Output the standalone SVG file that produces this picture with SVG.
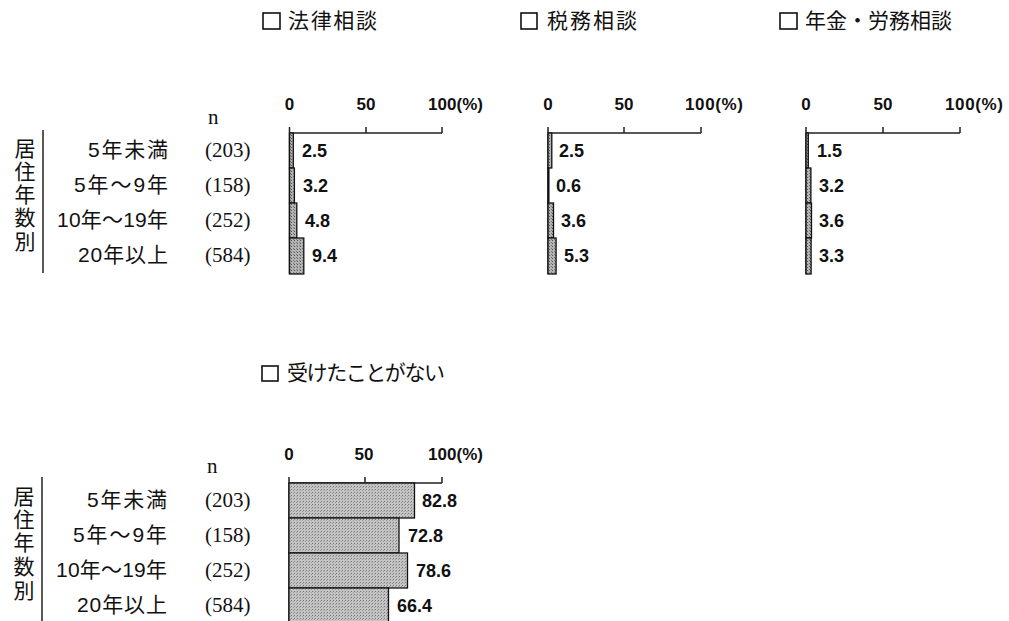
<svg xmlns="http://www.w3.org/2000/svg" width="1009" height="621" viewBox="0 0 1009 621">
<style>
.t{font-family:"Liberation Sans","Noto Sans CJK JP",sans-serif;fill:#111}
.ttl{font-size:21px}
.row{font-size:21px;text-anchor:end}
.vert{font-size:21px;text-anchor:middle}
.n{font-family:"Liberation Serif","Noto Sans CJK JP",serif;font-size:21px;fill:#111}
.tick{font-family:"Liberation Sans",sans-serif;font-size:17px;font-weight:bold;fill:#111}
.val{font-family:"Liberation Sans",sans-serif;font-size:18px;font-weight:bold;fill:#111}
.ax{stroke:#222;stroke-width:1.5;fill:none}
.bar{fill:url(#dots);stroke:#111;stroke-width:1.3}
.bar2{fill:url(#dots2);stroke:#111;stroke-width:1.3}
.box{fill:#fff;stroke:#111;stroke-width:1.6}
</style>
<defs>
<pattern id="dots" width="3" height="3" patternUnits="userSpaceOnUse">
<rect width="3" height="3" fill="#b4b4b4"/>
<rect width="1" height="1" fill="#555"/>
<rect x="2" y="2" width="1" height="1" fill="#777"/>
</pattern>
<pattern id="dots2" width="3" height="3" patternUnits="userSpaceOnUse">
<rect width="3" height="3" fill="#c4c4c4"/>
<rect width="1" height="1" fill="#777"/>
<rect x="2" y="1" width="1" height="1" fill="#999"/>
</pattern>
</defs>
<rect width="1009" height="621" fill="#fff"/>

<g id="rowlabels-top">
<text class="t vert"><tspan x="25" y="156">居</tspan><tspan x="25" y="179">住</tspan><tspan x="25" y="202">年</tspan><tspan x="25" y="225">数</tspan><tspan x="25" y="249">別</tspan></text>
<line class="ax" x1="43" y1="130" x2="43" y2="273"/>
<text class="t row" x="168" y="157" textLength="80" lengthAdjust="spacing">5年未満</text>
<text class="t row" x="168" y="192" textLength="94" lengthAdjust="spacing">5年～9年</text>
<text class="t row" x="168" y="227" textLength="111" lengthAdjust="spacing">10年～19年</text>
<text class="t row" x="168" y="262" textLength="90" lengthAdjust="spacing">20年以上</text>
<text class="n" x="208" y="124">n</text>
<text class="n" x="205" y="157">(203)</text>
<text class="n" x="205" y="192">(158)</text>
<text class="n" x="205" y="227">(252)</text>
<text class="n" x="205" y="262">(584)</text>
</g>

<g id="chart-houritsu">
<rect class="box" x="263" y="13" width="17" height="16"/>
<text class="t ttl" x="288" y="28" textLength="89" lengthAdjust="spacing">法律相談</text>
<text class="tick" x="289.5" y="110" text-anchor="middle">0</text>
<text class="tick" x="366" y="110" text-anchor="middle">50</text>
<text class="tick" x="428" y="110" textLength="55" lengthAdjust="spacing">100(%)</text>
<path class="ax" d="M289.5 127V274M289.5 133H442M366 127V133M442 127V133"/>
<rect class="bar" x="289.5" y="133" width="3.8" height="35"/>
<rect class="bar" x="289.5" y="168" width="4.9" height="35"/>
<rect class="bar" x="289.5" y="203" width="7.3" height="35"/>
<rect class="bar" x="289.5" y="238" width="14.3" height="36"/>
<text class="val" x="302" y="157">2.5</text>
<text class="val" x="303" y="192">3.2</text>
<text class="val" x="305" y="227">4.8</text>
<text class="val" x="312" y="262">9.4</text>
</g>

<g id="chart-zeimu">
<rect class="box" x="521" y="13" width="16" height="16"/>
<text class="t ttl" x="547" y="28" textLength="90" lengthAdjust="spacing">税務相談</text>
<text class="tick" x="548" y="110" text-anchor="middle">0</text>
<text class="tick" x="624" y="110" text-anchor="middle">50</text>
<text class="tick" x="685" y="110" textLength="58" lengthAdjust="spacing">100(%)</text>
<path class="ax" d="M548 127V274M548 133H701M624 127V133M701 127V133"/>
<rect class="bar" x="548" y="133" width="3.8" height="35"/>
<rect class="bar" x="548" y="168" width="0.9" height="35"/>
<rect class="bar" x="548" y="203" width="5.5" height="35"/>
<rect class="bar" x="548" y="238" width="8.1" height="36"/>
<text class="val" x="559" y="157">2.5</text>
<text class="val" x="556" y="192">0.6</text>
<text class="val" x="561" y="227">3.6</text>
<text class="val" x="564" y="262">5.3</text>
</g>

<g id="chart-nenkin">
<rect class="box" x="780" y="13" width="17" height="16"/>
<text class="t ttl" x="805" y="28" textLength="147" lengthAdjust="spacing">年金・労務相談</text>
<text class="tick" x="806" y="110" text-anchor="middle">0</text>
<text class="tick" x="883" y="110" text-anchor="middle">50</text>
<text class="tick" x="945" y="110" textLength="58" lengthAdjust="spacing">100(%)</text>
<path class="ax" d="M806 127V274M806 133H960M883 127V133M960 127V133"/>
<rect class="bar" x="806" y="133" width="2.3" height="35"/>
<rect class="bar" x="806" y="168" width="4.9" height="35"/>
<rect class="bar" x="806" y="203" width="5.5" height="35"/>
<rect class="bar" x="806" y="238" width="5.1" height="36"/>
<text class="val" x="817" y="157">1.5</text>
<text class="val" x="819" y="192">3.2</text>
<text class="val" x="819" y="227">3.6</text>
<text class="val" x="819" y="262">3.3</text>
</g>

<g id="rowlabels-bottom">
<text class="t vert"><tspan x="24" y="504">居</tspan><tspan x="24" y="527">住</tspan><tspan x="24" y="550">年</tspan><tspan x="24" y="574">数</tspan><tspan x="24" y="598">別</tspan></text>
<line class="ax" x1="42" y1="477" x2="42" y2="621"/>
<text class="t row" x="167" y="507" textLength="80" lengthAdjust="spacing">5年未満</text>
<text class="t row" x="167" y="542" textLength="94" lengthAdjust="spacing">5年～9年</text>
<text class="t row" x="167" y="577" textLength="111" lengthAdjust="spacing">10年～19年</text>
<text class="t row" x="167" y="612" textLength="90" lengthAdjust="spacing">20年以上</text>
<text class="n" x="207" y="473">n</text>
<text class="n" x="205" y="507">(203)</text>
<text class="n" x="205" y="542">(158)</text>
<text class="n" x="205" y="577">(252)</text>
<text class="n" x="205" y="612">(584)</text>
</g>

<g id="chart-nashi">
<rect class="box" x="262" y="366" width="16" height="15"/>
<text class="t ttl" x="287" y="380" textLength="158" lengthAdjust="spacing">受けたことがない</text>
<text class="tick" x="289" y="460" text-anchor="middle">0</text>
<text class="tick" x="364" y="460" text-anchor="middle">50</text>
<text class="tick" x="428" y="460" textLength="55" lengthAdjust="spacing">100(%)</text>
<path class="ax" d="M289 477V621M289 483H442M365 477V483M442 477V483"/>
<rect class="bar2" x="289" y="483" width="125.5" height="35"/>
<rect class="bar2" x="289" y="518" width="110" height="35"/>
<rect class="bar2" x="289" y="553" width="118.5" height="35"/>
<rect class="bar2" x="289" y="588" width="99.5" height="36"/>
<text class="val" x="422" y="507">82.8</text>
<text class="val" x="408" y="542">72.8</text>
<text class="val" x="416" y="577">78.6</text>
<text class="val" x="397" y="612">66.4</text>
</g>
</svg>
